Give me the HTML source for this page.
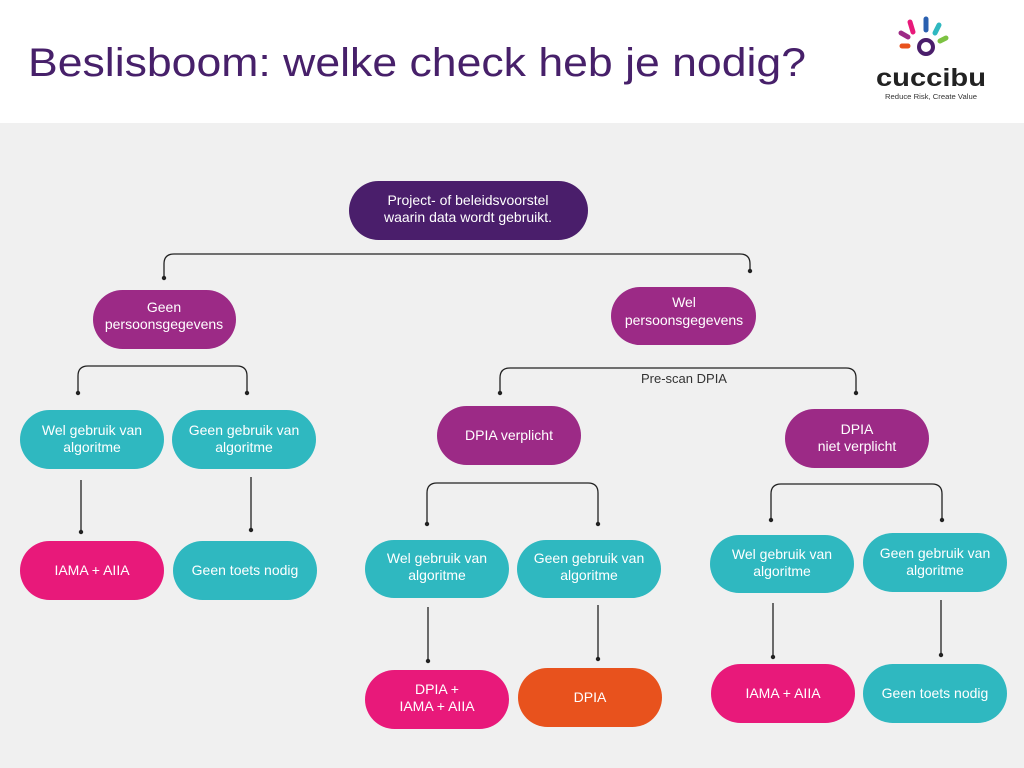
<!DOCTYPE html>
<html><head><meta charset="utf-8"><style>
html,body{margin:0;padding:0;width:1024px;height:768px;overflow:hidden;background:#fff}
svg{display:block}
text{font-family:"Liberation Sans",sans-serif}
.n{fill:#fff;font-size:14px;text-anchor:middle}
.c{fill:none;stroke:#222;stroke-width:1.3}
</style></head><body>
<svg width="1024" height="768" xmlns="http://www.w3.org/2000/svg">
<rect x="0" y="0" width="1024" height="123" fill="#fff"/>
<rect x="0" y="123" width="1024" height="645" fill="#f0f0f0"/>
<text x="28" y="76" font-size="40" fill="#47206a" textLength="778" lengthAdjust="spacingAndGlyphs">Beslisboom: welke check heb je nodig?</text>
<!-- logo -->
<g stroke-linecap="round" stroke-width="5">
<line x1="910" y1="22" x2="913" y2="32" stroke="#e8197a"/>
<line x1="926" y1="19" x2="926" y2="30" stroke="#2a60b0"/>
<line x1="939" y1="25" x2="935" y2="33" stroke="#2fb8c0"/>
<line x1="946" y1="38" x2="940" y2="41" stroke="#7cc242"/>
<line x1="901" y1="33" x2="908" y2="37" stroke="#9c2a86"/>
<line x1="902" y1="46" x2="908" y2="46" stroke="#e8521d"/>
</g>
<circle cx="926" cy="47" r="7" fill="none" stroke="#4a1e6b" stroke-width="4"/>
<text x="931" y="86" font-size="25" font-weight="bold" fill="#222" text-anchor="middle" textLength="110" lengthAdjust="spacingAndGlyphs">cuccibu</text>
<text x="931" y="99" font-size="7" fill="#333" text-anchor="middle" font-family="Liberation Serif" textLength="92" lengthAdjust="spacingAndGlyphs">Reduce Risk, Create Value</text>
<!-- connectors -->
<path class="c" d="M164 276 V264 Q164 254 174 254 H740 Q750 254 750 264 V270"/>
<path class="c" d="M78 392 V376 Q78 366 88 366 H237 Q247 366 247 376 V392"/>
<path class="c" d="M500 392 V378 Q500 368 510 368 H846 Q856 368 856 378 V392"/>
<path class="c" d="M427 523 V493 Q427 483 437 483 H588 Q598 483 598 493 V523"/>
<path class="c" d="M771 519 V494 Q771 484 781 484 H932 Q942 484 942 494 V519"/>
<path class="c" d="M81 480 V532 M251 477 V530 M428 607 V661 M598 605 V659 M773 603 V657 M941 600 V655"/>
<g fill="#222">
<circle cx="164" cy="278" r="2.2"/><circle cx="750" cy="271" r="2.2"/>
<circle cx="78" cy="393" r="2.2"/><circle cx="247" cy="393" r="2.2"/>
<circle cx="500" cy="393" r="2.2"/><circle cx="856" cy="393" r="2.2"/>
<circle cx="427" cy="524" r="2.2"/><circle cx="598" cy="524" r="2.2"/>
<circle cx="771" cy="520" r="2.2"/><circle cx="942" cy="520" r="2.2"/>
<circle cx="81" cy="532" r="2.2"/><circle cx="251" cy="530" r="2.2"/>
<circle cx="428" cy="661" r="2.2"/><circle cx="598" cy="659" r="2.2"/>
<circle cx="773" cy="657" r="2.2"/><circle cx="941" cy="655" r="2.2"/>
</g>
<text x="684" y="383" font-size="13" fill="#333" text-anchor="middle">Pre-scan DPIA</text>
<!-- nodes -->
<rect x="349" y="181" width="239" height="59" rx="29.5" fill="#4a1e6b"/>
<text class="n" x="468" y="205">Project- of beleidsvoorstel</text><text class="n" x="468" y="222">waarin data wordt gebruikt.</text>
<rect x="93" y="290" width="143" height="59" rx="29.5" fill="#9c2a86"/>
<text class="n" x="164" y="312">Geen</text><text class="n" x="164" y="329">persoonsgegevens</text>
<rect x="611" y="287" width="145" height="58" rx="29" fill="#9c2a86"/>
<text class="n" x="684" y="307">Wel</text><text class="n" x="684" y="325">persoonsgegevens</text>
<rect x="20" y="410" width="144" height="59" rx="29.5" fill="#2fb8c0"/>
<text class="n" x="92" y="435">Wel gebruik van</text><text class="n" x="92" y="452">algoritme</text>
<rect x="172" y="410" width="144" height="59" rx="29.5" fill="#2fb8c0"/>
<text class="n" x="244" y="435">Geen gebruik van</text><text class="n" x="244" y="452">algoritme</text>
<rect x="20" y="541" width="144" height="59" rx="29.5" fill="#e8197a"/>
<text class="n" x="92" y="575">IAMA + AIIA</text>
<rect x="173" y="541" width="144" height="59" rx="29.5" fill="#2fb8c0"/>
<text class="n" x="245" y="575">Geen toets nodig</text>
<rect x="437" y="406" width="144" height="59" rx="29.5" fill="#9c2a86"/>
<text class="n" x="509" y="440">DPIA verplicht</text>
<rect x="785" y="409" width="144" height="59" rx="29.5" fill="#9c2a86"/>
<text class="n" x="857" y="434">DPIA</text><text class="n" x="857" y="451">niet verplicht</text>
<rect x="365" y="540" width="144" height="58" rx="29" fill="#2fb8c0"/>
<text class="n" x="437" y="563">Wel gebruik van</text><text class="n" x="437" y="580">algoritme</text>
<rect x="517" y="540" width="144" height="58" rx="29" fill="#2fb8c0"/>
<text class="n" x="589" y="563">Geen gebruik van</text><text class="n" x="589" y="580">algoritme</text>
<rect x="365" y="670" width="144" height="59" rx="29.5" fill="#e8197a"/>
<text class="n" x="437" y="694">DPIA +</text><text class="n" x="437" y="711">IAMA + AIIA</text>
<rect x="518" y="668" width="144" height="59" rx="29.5" fill="#e8521d"/>
<text class="n" x="590" y="702">DPIA</text>
<rect x="710" y="535" width="144" height="58" rx="29" fill="#2fb8c0"/>
<text class="n" x="782" y="559">Wel gebruik van</text><text class="n" x="782" y="576">algoritme</text>
<rect x="863" y="533" width="144" height="59" rx="29.5" fill="#2fb8c0"/>
<text class="n" x="935" y="558">Geen gebruik van</text><text class="n" x="935" y="575">algoritme</text>
<rect x="711" y="664" width="144" height="59" rx="29.5" fill="#e8197a"/>
<text class="n" x="783" y="698">IAMA + AIIA</text>
<rect x="863" y="664" width="144" height="59" rx="29.5" fill="#2fb8c0"/>
<text class="n" x="935" y="698">Geen toets nodig</text>
</svg>
</body></html>
